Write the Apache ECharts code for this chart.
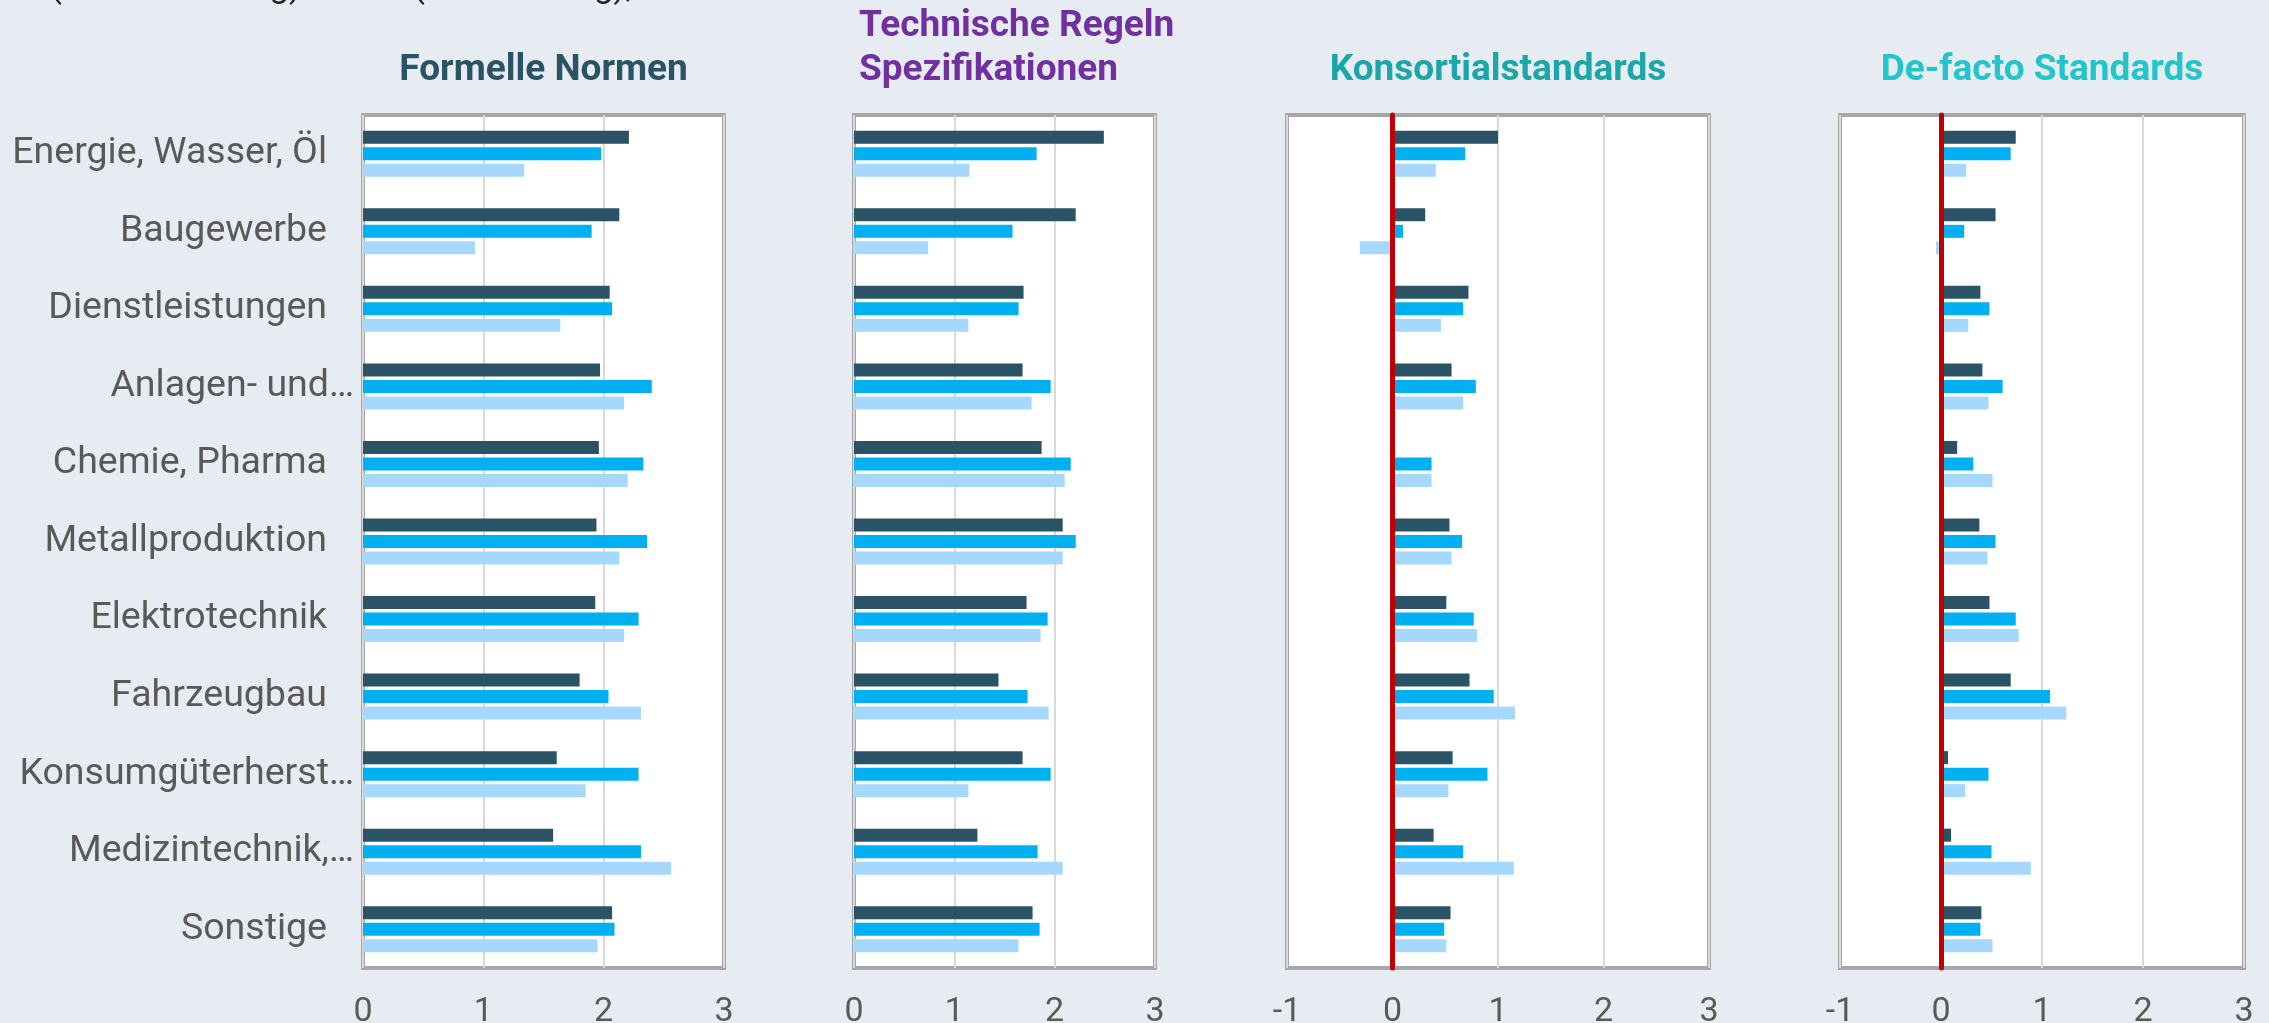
<!DOCTYPE html>
<html lang="de">

<head>
    <meta charset="utf-8">
    <title>Bedeutung von Standards nach Branchen</title>
    <script src="https://cdn.jsdelivr.net/npm/echarts@6/dist/echarts.min.js"></script>
    <style type="text/css">
    html, body {
        margin: 0;
        padding: 0;
        background-color: #E7ECF3;
    }

    #chart {
        width: 2269px;
        height: 1023px;
    }
    </style>
</head>

<body>
    <div id="chart"></div>
    <script type="text/javascript">
    // Branchen (von oben nach unten)
    var categories = ['Energie, Wasser, Öl', 'Baugewerbe', 'Dienstleistungen', 'Anlagen- und…',
        'Chemie, Pharma', 'Metallproduktion', 'Elektrotechnik', 'Fahrzeugbau',
        'Konsumgüterherst…', 'Medizintechnik,…', 'Sonstige'];

    var seriesNames = ['Reihe 1', 'Reihe 2', 'Reihe 3'];

    // Formelle Normen
    var normenA = [2.21, 2.13, 2.05, 1.97, 1.96, 1.94, 1.93, 1.80, 1.61, 1.58, 2.07];
    var normenB = [1.98, 1.90, 2.07, 2.40, 2.33, 2.36, 2.29, 2.04, 2.29, 2.31, 2.09];
    var normenC = [1.34, 0.93, 1.64, 2.17, 2.20, 2.13, 2.17, 2.31, 1.85, 2.56, 1.95];

    // Technische Regeln / Spezifikationen
    var regelnA = [2.49, 2.21, 1.69, 1.68, 1.87, 2.08, 1.72, 1.44, 1.68, 1.23, 1.78];
    var regelnB = [1.82, 1.58, 1.64, 1.96, 2.16, 2.21, 1.93, 1.73, 1.96, 1.83, 1.85];
    var regelnC = [1.15, 0.74, 1.14, 1.77, 2.10, 2.08, 1.86, 1.94, 1.14, 2.08, 1.64];

    // Konsortialstandards
    var konsortA = [1.00, 0.31, 0.72, 0.56, 0, 0.54, 0.51, 0.73, 0.57, 0.39, 0.55];
    var konsortB = [0.69, 0.10, 0.67, 0.79, 0.37, 0.66, 0.77, 0.96, 0.90, 0.67, 0.49];
    var konsortC = [0.41, -0.31, 0.46, 0.67, 0.37, 0.56, 0.80, 1.16, 0.53, 1.15, 0.51];

    // De-facto Standards
    var defactoA = [0.74, 0.54, 0.39, 0.41, 0.16, 0.38, 0.48, 0.69, 0.07, 0.10, 0.40];
    var defactoB = [0.69, 0.23, 0.48, 0.61, 0.32, 0.54, 0.74, 1.08, 0.47, 0.50, 0.39];
    var defactoC = [0.25, -0.05, 0.27, 0.47, 0.51, 0.46, 0.77, 1.24, 0.24, 0.89, 0.51];

    var barColors = ['#2A5366', '#00B0F0', '#A6D8FE'];
    var font = 'Roboto';

    // Aufbau der vier Teilgrafiken
    var panels = [
        { title: 'Formelle Normen', color: '#2A5366', left: 363, width: 361, min: 0, data: [normenA, normenB, normenC] },
        { title: 'Technische Regeln\nSpezifikationen', color: '#7030A0', left: 854, width: 301, min: 0, data: [regelnA, regelnB, regelnC] },
        { title: 'Konsortialstandards', color: '#1BA6A8', left: 1287, width: 422, min: -1, data: [konsortA, konsortB, konsortC] },
        { title: 'De-facto Standards', color: '#22C5CA', left: 1840, width: 404, min: -1, data: [defactoA, defactoB, defactoC] }
    ];

    var grids = [], xAxes = [], yAxes = [], series = [], titles = [];

    panels.forEach(function (p, i) {
        grids.push({
            left: p.left, top: 115, width: p.width, height: 853,
            outerBoundsMode: 'none',
            show: true, backgroundColor: '#FFFFFF',
            borderColor: '#A6A6A6', borderWidth: 4
        });
        xAxes.push({
            type: 'value', gridIndex: i, min: p.min, max: 3, interval: 1,
            axisLine: { show: false }, axisTick: { show: false },
            splitLine: { show: true, lineStyle: { color: '#D9D9D9', width: 2 } },
            axisLabel: { fontSize: 34, color: '#595959', fontFamily: font, margin: 27 }
        });
        yAxes.push({
            type: 'category', gridIndex: i, data: categories, inverse: true, z: 10,
            axisTick: { show: false },
            axisLine: { show: p.min < 0, onZero: true, lineStyle: { color: '#C00000', width: 5 } },
            axisLabel: {
                show: i === 0, margin: 9,
                formatter: function (v) {
                    return v.slice(-1) === '…' ? '{t|' + v + '}' : '{n|' + v + '}';
                },
                rich: {
                    n: { fontSize: 37.5, color: '#595959', fontFamily: font, padding: [0, 27, 0, 0] },
                    t: { fontSize: 37.5, color: '#595959', fontFamily: font }
                }
            }
        });
        p.data.forEach(function (vals, k) {
            series.push({
                type: 'bar', name: seriesNames[k], xAxisIndex: i, yAxisIndex: i,
                data: vals, barWidth: 13, barGap: '27%',
                itemStyle: { color: barColors[k] },
                animation: false
            });
        });
        var multi = p.title.indexOf('\n') >= 0;
        titles.push({
            text: p.title,
            left: multi ? 859 : p.left + p.width / 2,
            top: multi ? 5 : 49,
            padding: 0,
            textAlign: multi ? 'left' : 'center',
            textStyle: { fontSize: 37, fontWeight: 'bold', color: p.color, fontFamily: font, lineHeight: 44 }
        });
    });

    var chart = echarts.init(document.getElementById('chart'), null, { renderer: 'canvas' });
    chart.setOption({
        backgroundColor: '#E7ECF3',
        animation: false,
        title: titles,
        grid: grids,
        xAxis: xAxes,
        yAxis: yAxes,
        series: series,
        graphic: [{
            // oben abgeschnittene Zeile der Originalgrafik
            type: 'text', left: 12, top: -29,
            style: { text: '-3 (sehr unwichtig) bis +3 (sehr wichtig), Mittelwerte', font: '35px Roboto', fill: '#262626' }
        }]
    });
    </script>
</body>

</html>
